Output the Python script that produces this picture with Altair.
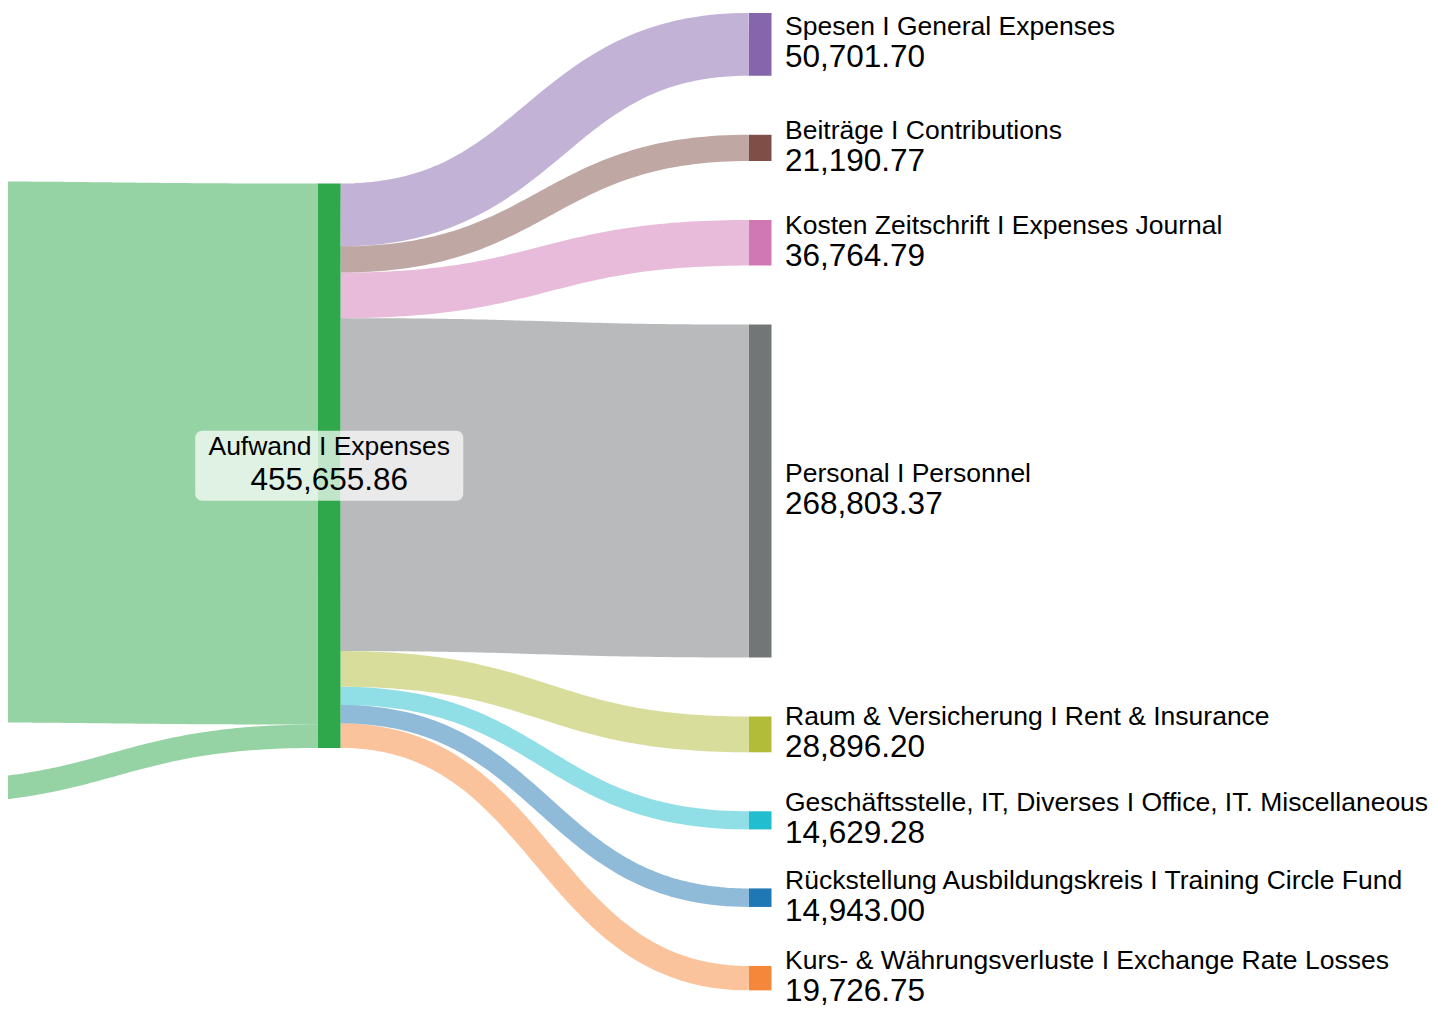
import altair as alt
import pandas as pd
import numpy as np

# ---------------- data ----------------
hub_name = "Aufwand I Expenses"
hub_color = "#2ea84a"

in_ids = ["in_1", "in_2"]
in_values = [436790.00, 18865.86]

out_names = [
    "Spesen I General Expenses",
    "Beiträge I Contributions",
    "Kosten Zeitschrift I Expenses Journal",
    "Personal I Personnel",
    "Raum & Versicherung I Rent & Insurance",
    "Geschäftsstelle, IT, Diverses I Office, IT. Miscellaneous",
    "Rückstellung Ausbildungskreis I Training Circle Fund",
    "Kurs- & Währungsverluste I Exchange Rate Losses",
]
out_values = [50701.70, 21190.77, 36764.79, 268803.37, 28896.20, 14629.28, 14943.00, 19726.75]
out_colors = ["#8566ad", "#7f4f47", "#cf78b4", "#727677", "#b3bc38", "#22bdce", "#1f77b4", "#f5873a"]

# ---------------- layout (sankey) ----------------
hub_value = sum(out_values)
K = 570.0 / hub_value          # layout units per value unit
GAP = 59.6
NODE_W = 22.5
COL_X = [-113.5, 318.0, 749.0]
COL_TOP = [187.0, 189.3, 17.0]

# view mapping
W, H = 1438, 1000
Y_DOM = [12, 1022]
FY = H / (Y_DOM[1] - Y_DOM[0])   # px per layout unit vertically

nodes = []
y = COL_TOP[0]
left_rects = []
for nid, v in zip(in_ids, in_values):
    h = v * K
    left_rects.append((y, y + h))
    nodes.append(dict(x=COL_X[0], x2=COL_X[0] + NODE_W, y=y, y2=y + h, color=hub_color))
    y += h + GAP
hub_y0 = COL_TOP[1]
hub_y1 = hub_y0 + hub_value * K
nodes.append(dict(x=COL_X[1], x2=COL_X[1] + NODE_W, y=hub_y0, y2=hub_y1, color=hub_color))
y = COL_TOP[2]
right_rects = []
for v, c in zip(out_values, out_colors):
    h = v * K
    right_rects.append((y, y + h))
    nodes.append(dict(x=COL_X[2], x2=COL_X[2] + NODE_W, y=y, y2=y + h, color=c))
    y += h + GAP
nodes_df = pd.DataFrame(nodes)

T = np.linspace(0, 1, 80)
rows = []
def add_link(lid, sx, sy, tx, ty, w, color):
    xs = sx + (tx - sx) * (1.5 * T * (1 - T) + T ** 3)
    ys = sy + (ty - sy) * (3 * T ** 2 - 2 * T ** 3)
    for i, (a, b) in enumerate(zip(xs, ys)):
        rows.append(dict(link=lid, i=i, x=a, y=b, w=w * FY, color=color))

cum = hub_y0
for nid, v, (a, b) in zip(in_ids, in_values, left_rects):
    w = v * K
    add_link(nid, COL_X[0] + NODE_W, (a + b) / 2, COL_X[1], cum + w / 2, w, hub_color)
    cum += w
cum = hub_y0
for n, v, c, (a, b) in zip(out_names, out_values, out_colors, right_rects):
    w = v * K
    add_link(n, COL_X[1] + NODE_W, cum + w / 2, COL_X[2], (a + b) / 2, w, c)
    cum += w
links_df = pd.DataFrame(rows)

labels_df = pd.DataFrame(dict(
    name=out_names,
    value=out_values,
    x=[COL_X[2] + NODE_W + 13.5] * len(out_names),
    y=[(a + b) / 2 for a, b in right_rects],
))
hub_df = pd.DataFrame(dict(name=[hub_name], value=[hub_value],
                           x=[COL_X[1] + NODE_W / 2], y=[(hub_y0 + hub_y1) / 2]))

# ---------------- chart ----------------
xs = alt.Scale(domain=[8, 8 + W], nice=False, zero=False)
ys = alt.Scale(domain=Y_DOM, nice=False, zero=False, reverse=True)
FONT = "Liberation Sans"

links = alt.Chart(links_df).mark_line(strokeCap="butt", clip=True, opacity=0.5).encode(
    x=alt.X("x:Q", scale=xs, axis=None),
    y=alt.Y("y:Q", scale=ys, axis=None),
    detail="link:N",
    order="i:Q",
    strokeWidth=alt.StrokeWidth("w:Q", scale=None),
    color=alt.Color("color:N", scale=None),
)

rects = alt.Chart(nodes_df).mark_rect(clip=True).encode(
    x=alt.X("x:Q", scale=xs, axis=None), x2="x2:Q",
    y=alt.Y("y:Q", scale=ys, axis=None), y2="y2:Q",
    color=alt.Color("color:N", scale=None),
)

box = alt.Chart(hub_df).mark_rect(width=268, height=70, cornerRadius=7, color="white", opacity=0.7).encode(
    x=alt.X("x:Q", scale=xs, axis=None),
    y=alt.Y("y:Q", scale=ys, axis=None),
)

def txt(df, field, size, dy, align, fmt=None):
    t = alt.Text(f"{field}:Q", format=fmt) if fmt else alt.Text(f"{field}:N")
    return alt.Chart(df).mark_text(font=FONT, fontSize=size, dy=dy, align=align,
                                   baseline="alphabetic", color="#000").encode(
        x=alt.X("x:Q", scale=xs, axis=None),
        y=alt.Y("y:Q", scale=ys, axis=None),
        text=t,
    )

chart = alt.layer(
    links, rects, box,
    txt(labels_df, "name", 26.5, -9, "left"),
    txt(labels_df, "value", 31.5, 23, "left", ",.2f"),
    txt(hub_df, "name", 26.5, -11, "center"),
    txt(hub_df, "value", 31.5, 24, "center", ",.2f"),
).properties(
    width=W, height=H, padding=0,
    autosize=alt.AutoSizeParams(type="none"),
).configure_view(strokeWidth=0)

chart.save("out.html", embed_options={"renderer": "svg", "actions": False})
